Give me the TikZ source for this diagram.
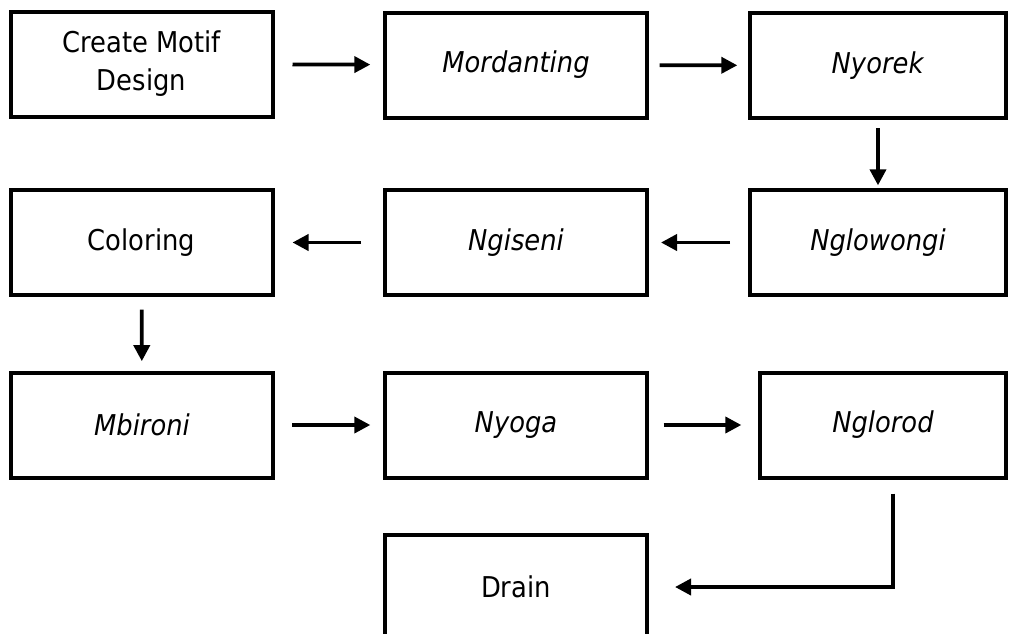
\documentclass[tikz,border=0pt]{standalone}
\usepackage{fontspec}
\setmainfont{DejaVu Sans}[FakeStretch=0.9]
\usepackage{tikz}
\usetikzlibrary{arrows.meta}
\usetikzlibrary{positioning}

\begin{document}
\begin{tikzpicture}[
        x=0.75pt, y=-0.75pt,
        stage/.style={
            rectangle, draw=black, line width=3pt,
            minimum width=196.5pt, minimum height=78.75pt,
            inner sep=0pt, align=center,
            font=\fontsize{21.5pt}{28.5pt}\selectfont,
        },
        flow/.style={
            -{Triangle[length=12pt,width=12pt]},
            line width=2.8pt,
        },
    ]
        \useasboundingbox (0,0) rectangle (1011,633);

        % first row
        \node (create) at(141.5,64) [stage] {Create Motif\\Design};
        \node (mordant) at(516,65) [stage] {\textit{Mordanting}};
        \node (nyorek) at(878,65.5) [stage, minimum width=192pt] {\textit{Nyorek}};

        % second row
        \node (nglowongi) at(878,242.5) [stage, minimum width=192pt] {\textit{Nglowongi}};
        \node (ngiseni) at(516,242.5) [stage] {\textit{Ngiseni}};
        \node (coloring) at(141.5,242.5) [stage] {Coloring};

        % third row
        \node (mbironi) at(142,425) [stage] {\textit{Mbironi}};
        \node (nyoga) at(516,425) [stage] {\textit{Nyoga}};
        \node (nglorod) at(883,425) [stage, minimum width=184.5pt] {\textit{Nglorod}};

        % last step
        \node (drain) at(516,587) [stage] {Drain};

        \draw[flow, shorten <=13.5pt, shorten >=9.5pt] (create) -- (mordant);
        \draw[flow, shorten <=8pt, shorten >=8pt] (mordant) -- (nyorek);
        \draw[flow, shorten <=6pt, shorten >=2pt] (nyorek) -- (nglowongi);
        \draw[flow, shorten <=13.5pt, shorten >=9pt] (nglowongi) -- (ngiseni);
        \draw[flow, shorten <=16.5pt, shorten >=13.5pt] (ngiseni) -- (coloring);
        \draw[flow, shorten <=9.5pt, shorten >=7pt] (coloring) -- (mbironi);
        \draw[flow, shorten <=13pt, shorten >=9.5pt] (mbironi) -- (nyoga);
        \draw[flow, shorten <=11pt, shorten >=12.5pt] (nyoga) -- (nglorod);
        \draw[flow, shorten <=10.5pt, shorten >=19.5pt]
            ([xshift=7.5pt]nglorod.south) |- (drain);
    \end{tikzpicture}
\end{document}
